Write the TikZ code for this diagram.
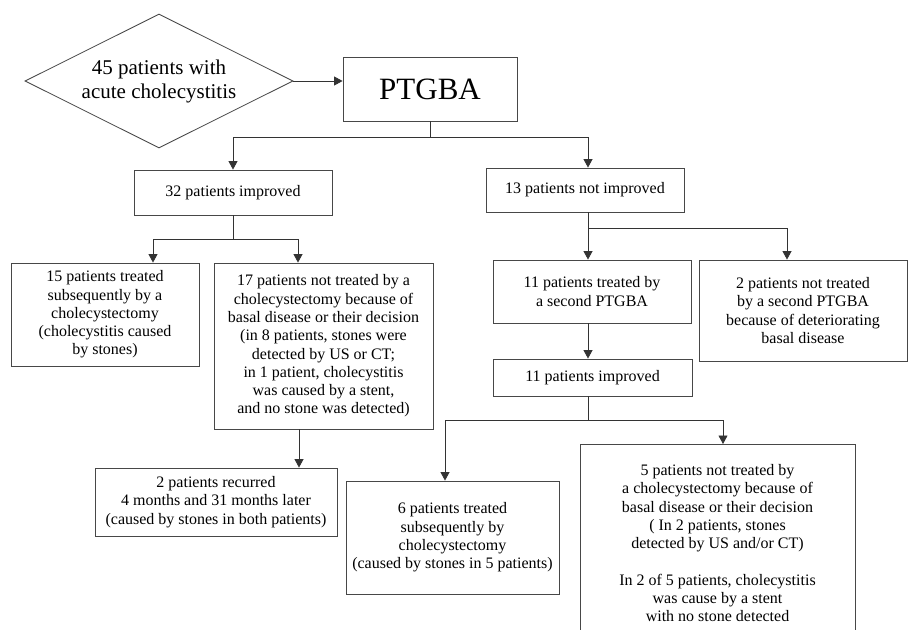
\documentclass[tikz,border=0pt]{standalone}
\usepackage{fontspec}
\setmainfont{Liberation Serif}
\newfontfamily\tnr{Liberation Serif}
\usetikzlibrary{arrows.meta,shapes.geometric}
\begin{document}
\begin{tikzpicture}[x=1pt,y=-1pt,
  line/.style={draw=black!80, line width=0.85pt},
  arr/.style={line, -{Triangle[length=8.5pt,width=9pt]}},
  box/.style={draw=black!72, line width=0.85pt, align=center, inner sep=0pt, text=black, font=\tnr\fontsize{16}{18.3}\selectfont},
]
\useasboundingbox (0,0) rectangle (909,629);
\clip (0,0) rectangle (909,629);

\node[draw=black!72, line width=0.85pt, shape=diamond, aspect=2, minimum width=268pt, minimum height=134pt, inner sep=0pt, align=center, text=black, font=\tnr\fontsize{21}{24}\selectfont] (d) at (159,81) {45 patients with\\acute cholecystitis};

\node[box, minimum width=174pt, minimum height=64pt, font=\tnr\fontsize{31}{36}\selectfont] (p) at (430,89) {PTGBA};

\node[box, minimum width=198pt, minimum height=45pt] (b32) at (233,192.5) {32 patients improved};
\node[box, minimum width=198pt, minimum height=44pt] (b13) at (585,190) {13 patients not improved};
\node[box, minimum width=188pt, minimum height=103pt] (b15) at (105,314.5) {15 patients treated\\subsequently by a\\cholecystectomy\\(cholecystitis caused\\by stones)};
\node[box, minimum width=219pt, minimum height=166pt] (b17) at (323.5,346) {17 patients not treated by a\\cholecystectomy because of\\basal disease or their decision\\(in 8 patients, stones were\\detected by US or CT;\\in 1 patient, cholecystitis\\was caused by a stent,\\and no stone was detected)};
\node[box, minimum width=242pt, minimum height=68pt] (b2r) at (216,502) {2 patients recurred\\4 months and 31 months later\\(caused by stones in both patients)};
\node[box, minimum width=198pt, minimum height=63pt] (b11t) at (592,291.5) {11 patients treated by\\a second PTGBA};
\node[box, minimum width=208pt, minimum height=101pt] (b2n) at (803,310.5) {2 patients not treated\\by a second PTGBA\\because of deteriorating\\basal disease};
\node[box, minimum width=199pt, minimum height=37pt] (b11i) at (592.5,377.5) {11 patients improved};
\node[box, minimum width=213pt, minimum height=113pt] (b6) at (452.5,537.5) {6 patients treated\\subsequently by\\cholecystectomy\\(caused by stones in 5 patients)};
\node[box, minimum width=275pt, anchor=north, inner ysep=20pt] (b5) at (717.5,444) {5 patients not treated by\\a cholecystectomy because of\\basal disease or their decision\\(\ In 2 patients, stones\\detected by US and/or CT)\\[18.3pt]In 2 of 5 patients, cholecystitis\\was cause by a stent\\with no stone detected};

\draw[arr] (d.east) -- (d.east -| p.west);

\coordinate (j1) at (430,137);
\draw[line] (p.south) -- (j1);
\draw[arr] (j1) -| (b32.north);
\coordinate (n13) at ([xshift=3pt]b13.north);
\draw[arr] (j1) -| (n13);

\coordinate (j2) at (233,239);
\draw[line] (b32.south) -- (j2);
\coordinate (n15) at ([xshift=48pt]b15.north);
\coordinate (n17) at ([xshift=-25.5pt]b17.north);
\draw[arr] (j2) -| (n15);
\draw[arr] (j2) -| (n17);

\coordinate (s17) at ([xshift=-24.5pt]b17.south);
\draw[arr] (s17) -- (s17 |- b2r.north);

\coordinate (s13) at ([xshift=3pt]b13.south);
\coordinate (j3) at (588,228);
\draw[line] (s13) -- (j3);
\draw[arr] (j3) -- (j3 |- b11t.north);
\coordinate (n2n) at ([xshift=-16pt]b2n.north);
\draw[arr] (j3) -| (n2n);

\coordinate (s11t) at ([xshift=-4pt]b11t.south);
\draw[arr] (s11t) -- (s11t |- b11i.north);

\coordinate (s11i) at ([xshift=-4.5pt]b11i.south);
\coordinate (j4) at (588,420);
\draw[line] (s11i) -- (j4);
\coordinate (n6) at ([xshift=-7.5pt]b6.north);
\coordinate (n5) at ([xshift=5.5pt]b5.north);
\draw[arr] (j4) -| (n6);
\draw[arr] (j4) -| (n5);
\end{tikzpicture}
\end{document}
